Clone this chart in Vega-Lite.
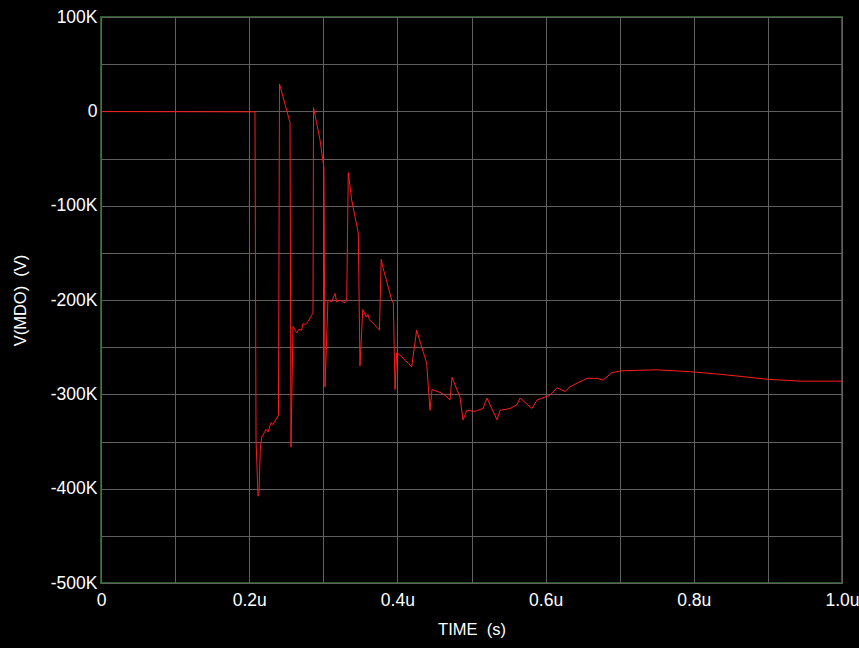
{
  "$schema": "https://vega.github.io/schema/vega-lite/v6.json",
  "width": 741,
  "height": 566,
  "autosize": {"type": "none"},
  "padding": {"left": 101, "top": 17, "right": 17, "bottom": 65},
  "background": "#000000",
  "config": {
    "view": {"stroke": "#2b5a2b", "strokeWidth": 2, "fill": "#000000"},
    "axis": {
      "labelFont": "Liberation Sans",
      "titleFont": "Liberation Sans",
      "labelColor": "#ffffff",
      "titleColor": "#ffffff",
      "labelFontSize": 17.5,
      "titleFontSize": 16.5,
      "titleFontWeight": "normal",
      "gridColor": "#606060",
      "gridWidth": 1,
      "gridOpacity": 1,
      "domain": false,
      "ticks": false
    }
  },
  "data": {
    "values": [
      {"t": 0.0, "v": -0.3},
      {"t": 0.2078, "v": -0.5},
      {"t": 0.2092, "v": -348},
      {"t": 0.2119, "v": -408},
      {"t": 0.2132, "v": -405},
      {"t": 0.2152, "v": -354},
      {"t": 0.2173, "v": -345},
      {"t": 0.2227, "v": -337},
      {"t": 0.2254, "v": -340},
      {"t": 0.2294, "v": -330},
      {"t": 0.2321, "v": -332},
      {"t": 0.2395, "v": -322},
      {"t": 0.2409, "v": 29},
      {"t": 0.2551, "v": -12},
      {"t": 0.2564, "v": -356},
      {"t": 0.2591, "v": -228},
      {"t": 0.2641, "v": -235},
      {"t": 0.2672, "v": -231},
      {"t": 0.2708, "v": -232},
      {"t": 0.2726, "v": -225},
      {"t": 0.2753, "v": -226},
      {"t": 0.2794, "v": -223},
      {"t": 0.2821, "v": -219},
      {"t": 0.2861, "v": -214},
      {"t": 0.2868, "v": 4},
      {"t": 0.2955, "v": -30},
      {"t": 0.3009, "v": -60},
      {"t": 0.3023, "v": -292},
      {"t": 0.3063, "v": -200},
      {"t": 0.3113, "v": -202},
      {"t": 0.3158, "v": -193},
      {"t": 0.3181, "v": -202},
      {"t": 0.3225, "v": -200},
      {"t": 0.3266, "v": -202},
      {"t": 0.3293, "v": -203},
      {"t": 0.3316, "v": -200},
      {"t": 0.3337, "v": -65},
      {"t": 0.3383, "v": -94},
      {"t": 0.3472, "v": -129},
      {"t": 0.3495, "v": -270},
      {"t": 0.3533, "v": -210},
      {"t": 0.3579, "v": -218},
      {"t": 0.3601, "v": -215},
      {"t": 0.3623, "v": -221},
      {"t": 0.3691, "v": -226},
      {"t": 0.3758, "v": -232},
      {"t": 0.3781, "v": -157},
      {"t": 0.3803, "v": -165},
      {"t": 0.3923, "v": -200},
      {"t": 0.3945, "v": -203},
      {"t": 0.3968, "v": -295},
      {"t": 0.399, "v": -256},
      {"t": 0.4058, "v": -260},
      {"t": 0.4103, "v": -264},
      {"t": 0.4147, "v": -267},
      {"t": 0.4193, "v": -271},
      {"t": 0.426, "v": -232},
      {"t": 0.4395, "v": -267},
      {"t": 0.444, "v": -317},
      {"t": 0.4467, "v": -295},
      {"t": 0.4575, "v": -298},
      {"t": 0.4642, "v": -301},
      {"t": 0.471, "v": -306},
      {"t": 0.4737, "v": -282},
      {"t": 0.4845, "v": -303},
      {"t": 0.4885, "v": -327},
      {"t": 0.4939, "v": -317},
      {"t": 0.5047, "v": -318},
      {"t": 0.5155, "v": -315},
      {"t": 0.5209, "v": -304},
      {"t": 0.5344, "v": -327},
      {"t": 0.5385, "v": -317},
      {"t": 0.552, "v": -315},
      {"t": 0.5614, "v": -311},
      {"t": 0.5655, "v": -304},
      {"t": 0.5816, "v": -315},
      {"t": 0.5884, "v": -306},
      {"t": 0.6059, "v": -301},
      {"t": 0.6154, "v": -293},
      {"t": 0.6262, "v": -297},
      {"t": 0.6329, "v": -292},
      {"t": 0.6559, "v": -283},
      {"t": 0.6694, "v": -283},
      {"t": 0.6775, "v": -285},
      {"t": 0.6896, "v": -277},
      {"t": 0.7031, "v": -275},
      {"t": 0.7503, "v": -274},
      {"t": 0.7949, "v": -276},
      {"t": 0.8394, "v": -279},
      {"t": 0.8988, "v": -284},
      {"t": 0.9433, "v": -286},
      {"t": 1.0, "v": -286}
    ]
  },
  "mark": {"type": "line", "color": "#ff1a1a", "strokeWidth": 1, "interpolate": "linear"},
  "encoding": {
    "x": {
      "field": "t",
      "type": "quantitative",
      "scale": {"domain": [0, 1], "nice": false, "zero": false},
      "axis": {
        "title": "TIME \u00a0(s)",
        "values": [0, 0.1, 0.2, 0.3, 0.4, 0.5, 0.6, 0.7, 0.8, 0.9, 1.0],
        "labelExpr": "datum.value == 0 ? '0' : (round(datum.value * 10) % 2 == 0 ? format(datum.value, '.1f') + 'u' : '')",
        "labelPadding": 8,
        "titlePadding": 13,
        "labelOverlap": false,
        "labelFlush": false
      }
    },
    "y": {
      "field": "v",
      "type": "quantitative",
      "scale": {"domain": [-500, 100], "nice": false, "zero": false},
      "axis": {
        "title": "V(MDO) \u00a0(V)",
        "values": [-500, -450, -400, -350, -300, -250, -200, -150, -100, -50, 0, 50, 100],
        "labelExpr": "datum.value == 0 ? '0' : (abs(datum.value) % 100 == 0 ? datum.value + 'K' : '')",
        "labelPadding": 4,
        "titlePadding": 22,
        "labelOverlap": false,
        "labelFlush": false
      }
    }
  }
}
